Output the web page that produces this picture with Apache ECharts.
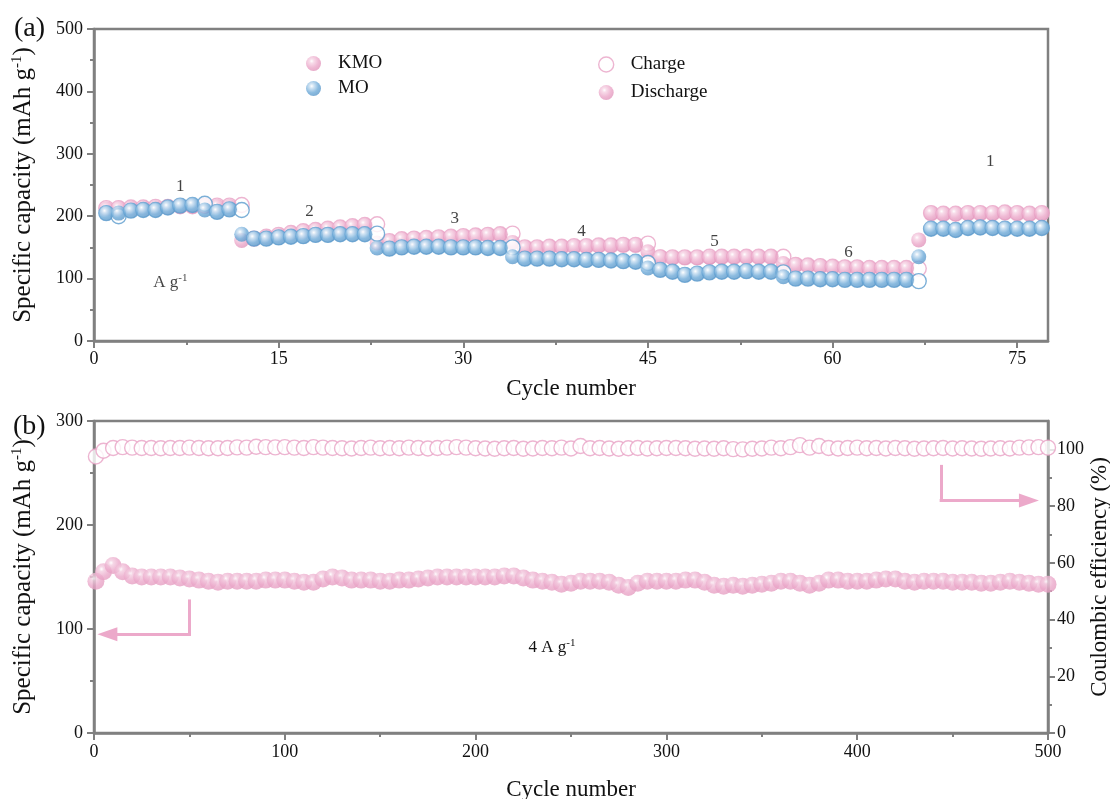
<!DOCTYPE html>
<html>
<head>
<meta charset="utf-8">
<script src="https://cdn.jsdelivr.net/npm/echarts@6/dist/echarts.min.js"></script>
<style>
  html, body { margin: 0; background: #fff; }
  #chart { width: 1110px; height: 799px; }
</style>
</head>
<body>
<div id="chart"></div>
<script>
// ---- (a) rate capability, cycles 1..77 ----
const rateCycles = [];
for (let c = 1; c <= 77; c++) rateCycles.push(c);

const kmoCharge = [
  213, 213, 214, 214, 215, 215, 216, 216, 217, 217, 217,
  218, 164, 167, 170, 173, 176, 178, 180, 182, 184, 186,
  187, 160, 163, 164, 165, 166, 167, 168, 169, 170, 171,
  172, 150, 150, 151, 151, 152, 152, 153, 153, 154, 154,
  156, 134, 134, 134, 134, 135, 135, 135, 135, 135, 135,
  135, 122, 121, 120, 119, 118, 118, 117, 117, 117, 117,
  116, 205, 204, 204, 205, 205, 205, 206, 205, 204, 205
];
const kmoDischarge = [
  212, 213, 213, 214, 214, 215, 216, 216, 216, 216, 216,
  161, 164, 167, 170, 173, 176, 178, 180, 182, 184, 186,
  157, 160, 163, 164, 165, 166, 167, 168, 169, 170, 171,
  158, 150, 150, 151, 151, 152, 152, 153, 153, 154, 154,
  143, 135, 134, 134, 134, 134, 135, 135, 135, 135, 135,
  124, 122, 121, 120, 119, 118, 118, 117, 117, 117, 117,
  162, 205, 204, 204, 205, 205, 205, 206, 205, 204, 205
];
const moCharge = [
  205, 200, 209, 210, 210, 214, 217, 218, 220, 207, 211,
  210, 164, 164, 166, 167, 168, 170, 170, 171, 171, 171,
  172, 148, 150, 151, 151, 151, 150, 150, 150, 149, 149,
  150, 132, 132, 132, 131, 131, 130, 130, 129, 128, 127,
  125, 114, 111, 106, 108, 110, 111, 111, 112, 111, 111,
  110, 100, 100, 99, 99, 98, 98, 98, 98, 98, 98,
  96, 180, 180, 178, 181, 182, 181, 180, 180, 180, 181
];
const moDischarge = [
  205, 205, 209, 210, 210, 214, 217, 218, 210, 207, 211,
  171, 164, 164, 166, 167, 168, 170, 170, 171, 171, 171,
  149, 148, 150, 151, 151, 151, 150, 150, 150, 149, 149,
  135, 132, 132, 132, 131, 131, 130, 130, 129, 128, 127,
  117, 114, 111, 106, 108, 110, 111, 111, 112, 111, 111,
  103, 100, 100, 99, 99, 98, 98, 98, 98, 98, 98,
  135, 180, 180, 178, 181, 182, 181, 180, 180, 180, 181
];
const rateTicks = [0, 15, 30, 45, 60, 75];
// current density labels above each step
const rateNotes = [
  { name: '1', value: [7, 248] },
  { name: '2', value: [17.5, 208] },
  { name: '3', value: [29.3, 196] },
  { name: '4', value: [39.6, 176] },
  { name: '5', value: [50.4, 159] },
  { name: '6', value: [61.3, 141] },
  { name: '1', value: [72.8, 288] },
  { name: 'unit', value: [6.2, 93] }
];

// ---- (b) long cycling at 4 A g-1, sampled every 5 cycles ----
const longCycles = [1];
for (let c = 5; c <= 500; c += 5) longCycles.push(c);

const longCapacity = [
  146, 155, 161, 155, 151, 150, 150, 150, 150, 149, 148,
  147, 146, 145, 146, 146, 146, 146, 147, 147, 147,
  146, 145, 145, 148, 150, 149, 147, 147, 147, 146,
  146, 147, 147, 148, 149, 150, 150, 150, 150, 150,
  150, 150, 151, 151, 149, 147, 146, 145, 143, 144,
  146, 146, 146, 145, 142, 140, 144, 146, 146, 146,
  146, 147, 147, 145, 142, 141, 142, 141, 142, 143,
  144, 146, 146, 144, 142, 144, 147, 147, 146, 146,
  146, 147, 148, 148, 146, 145, 146, 146, 146, 145,
  145, 145, 144, 144, 145, 146, 145, 144, 143, 143
];
const longCE = [
  97.5, 99.5, 100.5, 100.8, 100.6, 100.5, 100.5, 100.4, 100.5, 100.5, 100.6,
  100.5, 100.4, 100.4, 100.5, 100.7, 100.6, 100.9, 100.8, 100.7, 100.8,
  100.6, 100.5, 100.8, 100.6, 100.5, 100.4, 100.3, 100.5, 100.6, 100.4,
  100.5, 100.4, 100.6, 100.5, 100.3, 100.5, 100.6, 100.8, 100.6, 100.4,
  100.3, 100.2, 100.4, 100.5, 100.2, 100.3, 100.5, 100.4, 100.6, 100.3,
  101.2, 100.4, 100.5, 100.3, 100.2, 100.4, 100.5, 100.3, 100.4, 100.5,
  100.5, 100.4, 100.2, 100.3, 100.2, 100.4, 100.1, 100.0, 100.2, 100.3,
  100.6, 100.4, 100.8, 101.5, 100.6, 101.2, 100.5, 100.3, 100.5, 100.6,
  100.4, 100.5, 100.3, 100.5, 100.4, 100.2, 100.3, 100.4, 100.5, 100.3,
  100.4, 100.3, 100.2, 100.3, 100.4, 100.3, 100.6, 100.7, 100.8, 100.6
];
const capTicks = [0, 100, 200, 300];
const ceTicks = [0, 20, 40, 60, 80, 100];

// ---- styles ----
const FONT = 'Liberation Serif';
const AXIS = '#808080';
const PINK = '#eca9ca';
const PINK_LINE = '#e8a2c5';
const BLUE_LINE = '#5b9bcd';

function sphere(light, base, edge) {
  return new echarts.graphic.RadialGradient(0.38, 0.34, 0.72, [
    { offset: 0, color: '#ffffff' },
    { offset: 0.2, color: light },
    { offset: 0.62, color: base },
    { offset: 1, color: edge }
  ]);
}
const pinkBall = sphere('#f6d3e4', '#eba7c9', '#df93b9');
const blueBall = sphere('#c7def1', '#6eaad8', '#5895c7');
const hollowPink = { color: '#fff', borderColor: PINK_LINE, borderWidth: 1.4 };
const hollowBlue = { color: '#fff', borderColor: BLUE_LINE, borderWidth: 1.4 };

const pairs = (xs, ys) => xs.map((x, i) => [x, ys[i]]);

const capName = {
  color: '#111', fontSize: 25, fontFamily: FONT,
  rich: { sup: { fontSize: 15, fontFamily: FONT, color: '#111', padding: [0, 0, 12, 0] } }
};

function valueAxis(extra) {
  return Object.assign({
    type: 'value',
    splitLine: { show: false },
    nameMoveOverlap: false,
    axisLine: { show: true, lineStyle: { color: AXIS, width: 2.5 } },
    axisTick: { show: true, length: 7, lineStyle: { color: AXIS, width: 2 } },
    minorTick: { show: true, splitNumber: 2, length: 4, lineStyle: { color: AXIS, width: 2 } },
    axisLabel: { color: '#111', fontSize: 18, fontFamily: FONT, margin: 11 },
    nameTextStyle: { color: '#111', fontSize: 23, fontFamily: FONT }
  }, extra);
}

const labelA = { type: 'text', left: 14, top: 15, style: { text: '(a)', font: '28px "Liberation Serif"', fill: '#111' } };
const labelB = { type: 'text', left: 13, top: 413, style: { text: '(b)', font: '28px "Liberation Serif"', fill: '#111' } };

const chart = echarts.init(document.getElementById('chart'));
const option = {
  backgroundColor: '#fff',
  animation: false,
  textStyle: { fontFamily: FONT },
  graphic: [labelA, labelB],
  legend: [
    {
      left: 301, top: 49, orient: 'vertical', itemWidth: 15, itemHeight: 15, itemGap: 6,
      selectedMode: false,
      textStyle: { fontSize: 19, fontFamily: FONT, color: '#111', padding: [0, 0, 0, 12] },
      data: [{ name: 'KMO', icon: 'circle' }, { name: 'MO', icon: 'circle' }]
    },
    {
      left: 593, top: 50, orient: 'vertical', itemWidth: 15, itemHeight: 15, itemGap: 9,
      selectedMode: false,
      textStyle: { fontSize: 19, fontFamily: FONT, color: '#111', padding: [0, 0, 0, 12] },
      data: [
        { name: 'Charge', icon: 'circle', itemStyle: hollowPink },
        { name: 'Discharge', icon: 'circle' }
      ]
    }
  ],
  grid: [
    { left: 94, top: 29, width: 954, height: 312, show: true, borderColor: AXIS, borderWidth: 2.5,
      containLabel: false, outerBoundsMode: 'none' },
    { left: 94, top: 421, width: 954, height: 312, show: true, borderColor: AXIS, borderWidth: 2.5,
      containLabel: false, outerBoundsMode: 'none' }
  ],
  xAxis: [
    valueAxis({
      gridIndex: 0, min: 0, max: 77.5, interval: 15,
      axisTick: { show: true, length: 7, customValues: rateTicks, lineStyle: { color: AXIS, width: 2 } },
      axisLabel: { color: '#111', fontSize: 18, fontFamily: FONT, margin: 9, customValues: rateTicks },
      name: 'Cycle number', nameLocation: 'middle', nameGap: 36
    }),
    valueAxis({
      gridIndex: 1, min: 0, max: 500, interval: 100,
      axisLabel: { color: '#111', fontSize: 18, fontFamily: FONT, margin: 10 },
      name: 'Cycle number', nameLocation: 'middle', nameGap: 45
    })
  ],
  yAxis: [
    valueAxis({
      gridIndex: 0, min: 0, max: 500, interval: 100,
      name: 'Specific capacity (mAh g{sup|-1})', nameLocation: 'middle', nameRotate: 90, nameGap: 57,
      nameTextStyle: capName
    }),
    valueAxis({
      gridIndex: 1, min: 0, max: 300, interval: 100,
      axisTick: { show: true, length: 7, customValues: capTicks, lineStyle: { color: AXIS, width: 2 } },
      axisLabel: { color: '#111', fontSize: 18, fontFamily: FONT, margin: 11, customValues: capTicks },
      name: 'Specific capacity (mAh g{sup|-1})', nameLocation: 'middle', nameRotate: 90, nameGap: 57,
      nameTextStyle: capName
    }),
    valueAxis({
      gridIndex: 1, position: 'right', min: 0, max: 110, interval: 20,
      axisTick: { show: true, length: 7, customValues: ceTicks, lineStyle: { color: AXIS, width: 2 } },
      axisLabel: { color: '#111', fontSize: 18, fontFamily: FONT, margin: 9, customValues: ceTicks },
      name: 'Coulombic efficiency (%)', nameLocation: 'middle', nameRotate: 90, nameGap: 40,
      nameTextStyle: { color: '#111', fontSize: 23, fontFamily: FONT }
    })
  ],
  series: [
    // legend-only entries
    { name: 'KMO', type: 'scatter', xAxisIndex: 0, yAxisIndex: 0, data: [], itemStyle: { color: pinkBall } },
    { name: 'MO', type: 'scatter', xAxisIndex: 0, yAxisIndex: 0, data: [], itemStyle: { color: blueBall } },
    { name: 'Charge', type: 'scatter', xAxisIndex: 0, yAxisIndex: 0, data: [], itemStyle: hollowPink },
    { name: 'Discharge', type: 'scatter', xAxisIndex: 0, yAxisIndex: 0, data: [], itemStyle: { color: pinkBall } },

    // (a)
    { name: 'KMO charge', type: 'scatter', xAxisIndex: 0, yAxisIndex: 0, symbolSize: 15,
      itemStyle: hollowPink, data: pairs(rateCycles, kmoCharge) },
    { name: 'KMO discharge', type: 'scatter', xAxisIndex: 0, yAxisIndex: 0, symbolSize: 15,
      itemStyle: { color: pinkBall }, data: pairs(rateCycles, kmoDischarge) },
    { name: 'MO charge', type: 'scatter', xAxisIndex: 0, yAxisIndex: 0, symbolSize: 15,
      itemStyle: hollowBlue, data: pairs(rateCycles, moCharge) },
    { name: 'MO discharge', type: 'scatter', xAxisIndex: 0, yAxisIndex: 0, symbolSize: 15,
      itemStyle: { color: blueBall }, data: pairs(rateCycles, moDischarge) },
    { name: 'notes', type: 'scatter', xAxisIndex: 0, yAxisIndex: 0, symbolSize: 1, silent: true,
      itemStyle: { color: 'rgba(0,0,0,0)' },
      label: {
        show: true, position: 'inside', fontSize: 17, fontFamily: FONT, color: '#111',
        formatter: p => p.name === 'unit' ? 'A g{sup|-1}' : p.name,
        rich: { sup: { fontSize: 11, fontFamily: FONT, color: '#111', padding: [0, 0, 9, 0] } }
      },
      data: rateNotes },

    // (b)
    { name: 'Capacity', type: 'scatter', xAxisIndex: 1, yAxisIndex: 1, symbolSize: 17,
      itemStyle: { color: sphere('#f3cde0', '#eba8ca', '#e49dc0') },
      data: pairs(longCycles, longCapacity),
      markLine: {
        silent: true, symbol: 'none', label: { show: false },
        lineStyle: { color: PINK, width: 3, type: 'solid', cap: 'square' },
        data: [
          [{ coord: [50, 127] }, { coord: [50, 95] }],
          [{ coord: [50, 95] }, { coord: [7, 95], symbol: 'triangle', symbolSize: [14, 20] }]
        ]
      } },
    { name: 'Coulombic efficiency', type: 'scatter', xAxisIndex: 1, yAxisIndex: 2, symbolSize: 15,
      itemStyle: hollowPink, data: pairs(longCycles, longCE),
      markLine: {
        silent: true, symbol: 'none', label: { show: false },
        lineStyle: { color: PINK, width: 3, type: 'solid', cap: 'square' },
        data: [
          [{ coord: [444, 94] }, { coord: [444, 82] }],
          [{ coord: [444, 82] }, { coord: [490, 82], symbol: 'triangle', symbolSize: [14, 20] }]
        ]
      } }
  ]
};
chart.setOption(option);

// 4 A g-1 label for panel (b), placed through the axes
const p4 = chart.convertToPixel({ xAxisIndex: 1, yAxisIndex: 1 }, [240, 82]);
chart.setOption({
  graphic: [
    labelA,
    labelB,
    { type: 'text', x: p4[0], y: p4[1],
      style: { text: '4 A g{sup|-1}', align: 'center', verticalAlign: 'middle',
        font: '17px "Liberation Serif"', fill: '#111',
        rich: { sup: { fontSize: 11, fontFamily: FONT, fill: '#111', padding: [0, 0, 9, 0] } } } }
  ]
});
</script>
</body>
</html>
